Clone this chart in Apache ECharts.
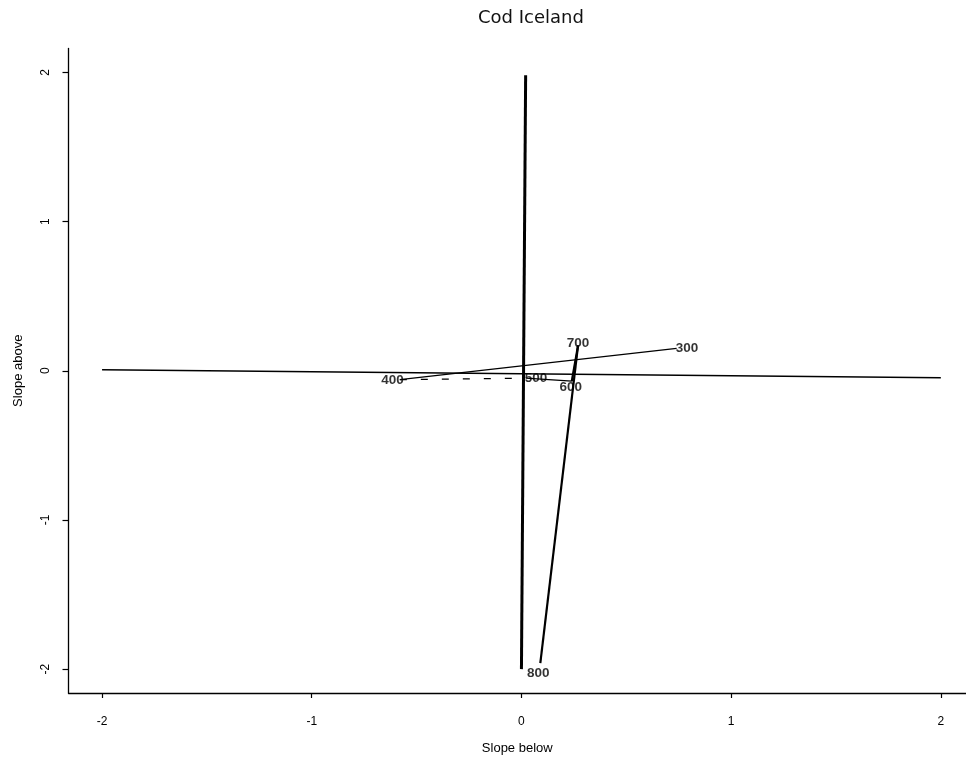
<!DOCTYPE html>
<html>
<head>
<meta charset="utf-8">
<script src="https://cdn.jsdelivr.net/npm/echarts@6/dist/echarts.min.js"></script>
<style>html,body{margin:0;padding:0;background:#fff;}#c{width:966px;height:760px;}</style>
</head>
<body>
<div id="c"></div>
<script>
// ---- data ----
const titleText = 'Cod Iceland';
const xName = 'Slope below';
const yName = 'Slope above';
const xTicks = [-2, -1, 0, 1, 2];
const yTicks = [-2, -1, 0, 1, 2];
const pointLabels = ['300', '400', '500', '600', '700', '800'];
const slopeBelow = [0.74, -0.58, 0.02, 0.24, 0.27, 0.09];
const slopeAbove = [0.15, -0.06, -0.05, -0.07, 0.17, -1.96];
// reference lines (as they appear in the scan)
const refVertX = [0.02, 0.0];
const refVertY = [1.98, -2.0];
const refHorzX = [-2.0, 2.0];
const refHorzY = [0.007, -0.047];

// ---- styles (kept separate from data) ----
const FONT = 'Liberation Sans, Arial, sans-serif';
const segStyles = [
  { width: 1.2, type: 'solid' },     // 300-400
  { width: 1.2, type: [7, 14] },     // 400-500
  { width: 1.2, type: 'solid' },     // 500-600
  { width: 2.2, type: 'solid' },     // 600-700
  { width: 2.2, type: 'solid' }      // 700-800
];
const labelPos = [
  { position: 'right', distance: -1, offset: [0, 0] },
  { position: 'left', distance: -4, offset: [0, 1] },
  { position: 'right', distance: -1, offset: [0, 0] },
  { position: 'inside', offset: [-1, 6] },
  { position: 'inside', offset: [0, -2] },
  { position: 'inside', offset: [-2, 10] }
];

const series = [];
series.push({
  type: 'line', symbol: 'none', silent: true,
  data: refVertX.map((x, i) => [x, refVertY[i]]),
  lineStyle: { color: '#000', width: 3 }
});
series.push({
  type: 'line', symbol: 'none', silent: true,
  data: refHorzX.map((x, i) => [x, refHorzY[i]]),
  lineStyle: { color: '#000', width: 1.4 }
});
for (let i = 0; i < slopeBelow.length - 1; i++) {
  series.push({
    type: 'line', symbol: 'none', silent: true,
    data: [[slopeBelow[i], slopeAbove[i]], [slopeBelow[i + 1], slopeAbove[i + 1]]],
    lineStyle: Object.assign({ color: '#000' }, segStyles[i])
  });
}
series.push({
  type: 'scatter', symbolSize: 0.1, silent: true,
  data: slopeBelow.map((x, i) => ({
    value: [x, slopeAbove[i]],
    label: Object.assign({
      show: true, formatter: pointLabels[i], color: '#000',
      fontSize: 13.5, fontWeight: 'bold', fontFamily: FONT
    }, labelPos[i])
  }))
});

const chart = echarts.init(document.getElementById('c'), null, { renderer: 'canvas' });
chart.setOption({
  backgroundColor: '#fff',
  animation: false,
  title: {
    text: titleText, left: 473, top: 4,
    textStyle: { fontFamily: 'DejaVu Sans, sans-serif', fontSize: 18, fontWeight: 'normal', color: '#111' }
  },
  grid: { left: 68.5, right: 0, top: 48.5, bottom: 66.5, containLabel: false },
  xAxis: {
    type: 'value', min: -2.16, max: 2.12,
    name: xName, nameLocation: 'middle', nameGap: 49,
    nameTextStyle: { fontFamily: FONT, fontSize: 13, color: '#000' },
    axisLine: { show: true, onZero: false, lineStyle: { color: '#000', width: 1.3 } },
    axisTick: { show: true, customValues: xTicks, length: 5, lineStyle: { color: '#000', width: 1.2 } },
    axisLabel: { customValues: xTicks, margin: 23, fontSize: 12, color: '#000', fontFamily: FONT },
    splitLine: { show: false }
  },
  yAxis: {
    type: 'value', min: -2.16, max: 2.16,
    name: yName, nameLocation: 'middle', nameGap: 44, nameRotate: 90,
    nameTextStyle: { fontFamily: FONT, fontSize: 13, color: '#000' },
    axisLine: { show: true, onZero: false, lineStyle: { color: '#000', width: 1.3 } },
    axisTick: { show: true, customValues: yTicks, length: 6, lineStyle: { color: '#000', width: 1.2 } },
    axisLabel: { customValues: yTicks, rotate: 90, margin: 17, fontSize: 12, color: '#000', fontFamily: FONT },
    splitLine: { show: false }
  },
  series: series
});
</script>
</body>
</html>
